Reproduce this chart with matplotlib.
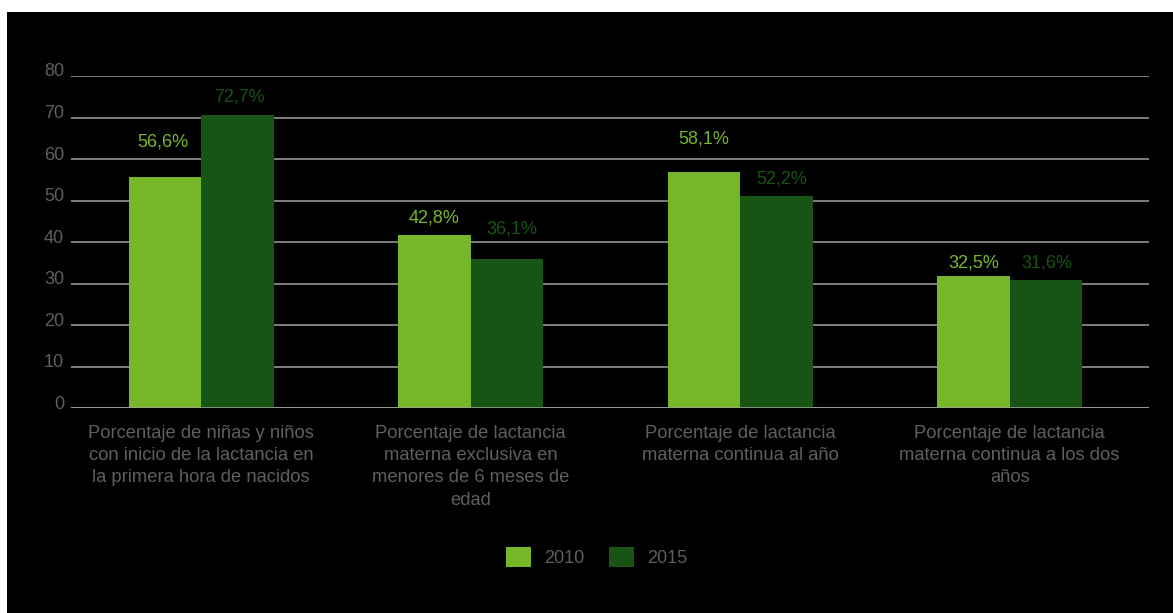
import matplotlib
matplotlib.use("Agg")
import matplotlib.pyplot as plt
import matplotlib.transforms as mtransforms
from matplotlib.patches import Rectangle, Patch
import numpy as np

plt.rcParams['font.family'] = ['Liberation Sans', 'DejaVu Sans']

categories = [
    "Porcentaje de niñas y niños\ncon inicio de la lactancia en\nla primera hora de nacidos",
    "Porcentaje de lactancia\nmaterna exclusiva en\nmenores de 6 meses de\nedad",
    "Porcentaje de lactancia\nmaterna continua al año",
    "Porcentaje de lactancia\nmaterna continua a los dos\naños",
]
series = ["2010", "2015"]
# bar heights as drawn in the picture
bar_2010 = [55.6, 41.7, 56.9, 31.8]
bar_2015 = [70.6, 35.9, 51.1, 30.9]
# values printed above the bars
pct_2010 = [56.6, 42.8, 58.1, 32.5]
pct_2015 = [72.7, 36.1, 52.2, 31.6]
yticks = [0, 10, 20, 30, 40, 50, 60, 70, 80]

c_light = "#76b72a"
c_dark = "#185515"
c_text = "#5f5f5f"
c_grid = "#a0a0a0"

W, H, DPI = 1173, 613, 100
fig = plt.figure(figsize=(W / DPI, H / DPI), dpi=DPI, facecolor="white")
# black panel (white strip at top and left)
fig.patches.append(Rectangle((7 / W, 0), 1 - 7 / W, 1 - 12 / H,
                             transform=fig.transFigure, facecolor="black",
                             edgecolor="none", zorder=-10))

ax = fig.add_axes([71 / W, (H - 408.3) / H, (1149 - 71) / W, (408.3 - 76) / H])
ax.set_facecolor("black")
ax.patch.set_alpha(0)

x = np.arange(len(categories))
w = 0.269
b1 = ax.bar(x - w / 2, bar_2010, w, color=c_light, zorder=3)
b2 = ax.bar(x + w / 2, bar_2015, w, color=c_dark, zorder=3)

ax.set_xlim(-0.483, len(categories) - 0.483)
ax.set_ylim(0, 80)
ax.set_yticks(yticks)
ax.yaxis.grid(True, color=c_grid, linewidth=1.1, zorder=0)
ax.set_axisbelow(True)
for s in ax.spines.values():
    s.set_visible(False)
ax.axhline(0, color=c_grid, linewidth=1.1, zorder=4)

ax.tick_params(axis="y", length=0, pad=5, labelsize=13, labelcolor=c_text)
ax.tick_params(axis="x", length=0, pad=12, labelsize=13.2, labelcolor=c_text)
ax.set_xticks(x)
ax.set_xticklabels(categories, linespacing=1.4)

# y tick labels sit slightly above their grid line
shift = mtransforms.ScaledTranslation(0, 6 / 72 * 0.72, fig.dpi_scale_trans)
for lab in ax.get_yticklabels():
    lab.set_transform(lab.get_transform() + shift)

# value labels, offsets in pixels (x, y) from bar top centre
off_2010 = [(-2, 35.6), (0, 17), (0, 33), (0, 13)]
off_2015 = [(2, 18), (5, 30), (5, 17.3), (1, 17)]
for bars, vals, offs, col in [(b1, pct_2010, off_2010, c_light),
                              (b2, pct_2015, off_2015, c_dark)]:
    for r, v, (ox, oy) in zip(bars, vals, offs):
        ax.annotate(f"{v:.1f}%".replace(".", ","),
                    xy=(r.get_x() + r.get_width() / 2, r.get_height()),
                    xytext=(ox * 0.72, oy * 0.72), textcoords="offset points",
                    ha="center", va="center", fontsize=13, color=col,
                    annotation_clip=False)

handles = [Patch(facecolor=c_light, edgecolor="none"),
           Patch(facecolor=c_dark, edgecolor="none")]
fig.legend(handles, series, loc="center", bbox_to_anchor=(596.5 / W, 1 - 557 / H),
           ncol=2, frameon=False, fontsize=13, labelcolor=c_text,
           handlelength=1.39, handleheight=1.39, handletextpad=0.7,
           columnspacing=1.39)

fig.savefig("out.png", dpi=DPI, facecolor="white")
